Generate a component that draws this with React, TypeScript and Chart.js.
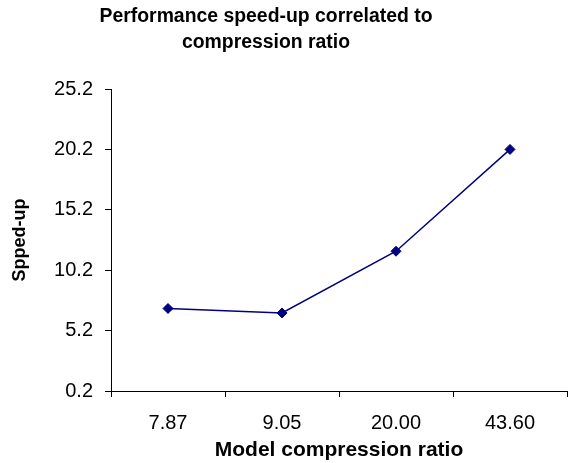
import React, { useEffect, useRef } from "react";
import { Chart, registerables } from "chart.js";

Chart.register(...registerables);

const categories = ["7.87", "9.05", "20.00", "43.60"];
const speedUp = [7.03, 6.66, 11.77, 20.2];
const titleLines = ["Performance speed-up correlated to", "compression ratio"];
const xTitle = "Model compression ratio";
const yTitle = "Spped-up";
const yMin = 0.2;
const yMax = 25.2;
const yStep = 5;

const FONT = "'Liberation Sans', Arial, sans-serif";

const titlePlugin = {
  id: "customTitle",
  afterDraw(chart: any) {
    const ctx = chart.ctx;
    ctx.save();
    ctx.font = `bold 19.4px ${FONT}`;
    ctx.fillStyle = "#000";
    ctx.textAlign = "center";
    ctx.textBaseline = "middle";
    titleLines.forEach((line, i) => {
      ctx.fillText(line, 266, 17 + i * 26);
    });
    ctx.restore();
  },
};

export default function App() {
  const ref = useRef<HTMLCanvasElement>(null);
  useEffect(() => {
    if (!ref.current) return;
    const chart = new Chart(ref.current, {
      type: "line",
      data: {
        labels: categories,
        datasets: [
          {
            data: speedUp,
            borderColor: "#000080",
            backgroundColor: "#000080",
            borderWidth: 1.5,
            pointStyle: "rectRot",
            pointRadius: 5,
            pointBorderWidth: 1,
            pointBackgroundColor: "#000080",
            pointBorderColor: "#000080",
            tension: 0,
          },
        ],
      },
      plugins: [titlePlugin],
      options: {
        animation: false,
        responsive: false,
        devicePixelRatio: 1,
        layout: { padding: { top: 89, right: 7, bottom: 0, left: 0 } },
        plugins: {
          legend: { display: false },
          title: { display: false },
          tooltip: { enabled: false },
        },
        scales: {
          x: {
            type: "category",
            offset: true,
            grid: {
              offset: true,
              drawOnChartArea: false,
              drawTicks: true,
              tickLength: 6,
              color: "#000",
            },
            border: { display: true, color: "#000", width: 1 },
            ticks: {
              color: "#000",
              font: { family: FONT, size: 20 },
              padding: 14,
              maxRotation: 0,
            },
            title: {
              display: true,
              text: xTitle,
              color: "#000",
              font: { family: FONT, size: 21, weight: "bold" },
              padding: { top: 0, bottom: 0 },
            },
            afterFit(scale: any) {
              scale.height = 72;
            },
          },
          y: {
            min: yMin,
            max: yMax,
            grid: {
              drawOnChartArea: false,
              drawTicks: true,
              tickLength: 6,
              color: "#000",
            },
            border: { display: true, color: "#000", width: 1 },
            ticks: {
              stepSize: yStep,
              color: "#000",
              font: { family: FONT, size: 20 },
              padding: 12,
              callback: (v: any) => Number(v).toFixed(1),
            },
            title: {
              display: true,
              text: yTitle,
              color: "#000",
              font: { family: FONT, size: 18, weight: "bold" },
              padding: { top: 9, bottom: 0 },
            },
            afterFit(scale: any) {
              scale.width = 111;
            },
          },
        },
      },
    });
    return () => chart.destroy();
  }, []);
  return (
    <div style={{ position: "fixed", left: 0, top: 0, width: 574, height: 463, background: "#fff" }}>
      <canvas ref={ref} width={574} height={463} style={{ width: 574, height: 463 }} />
    </div>
  );
}
